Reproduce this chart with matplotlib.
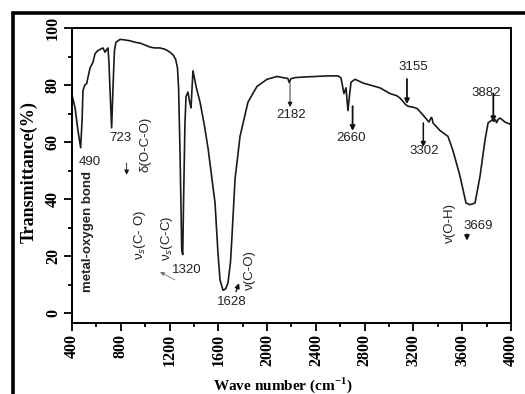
import matplotlib
matplotlib.use("Agg")
import matplotlib.pyplot as plt
from matplotlib.patches import Rectangle
from matplotlib.ticker import MultipleLocator

# FTIR spectrum
wavenumber = [400, 425, 449, 471, 483, 490, 505, 520, 548, 572, 589, 610, 630, 654, 671,
              685, 695, 703, 712, 725, 737, 748, 760, 794, 836, 876, 918, 958, 1000, 1040,
              1080, 1122, 1165, 1204, 1230, 1250, 1265, 1274, 1286, 1300, 1308, 1316, 1326,
              1335, 1351, 1365, 1376, 1392, 1420, 1450, 1485, 1515, 1545, 1573, 1597, 1614,
              1638, 1660, 1679, 1700, 1712, 1737, 1778, 1843, 1917, 1999, 2081, 2140, 2170,
              2182, 2195, 2230, 2300, 2400, 2500, 2580, 2606, 2630, 2647, 2663, 2675, 2688,
              2721, 2786, 2860, 2926, 3008, 3065, 3090, 3139, 3160, 3188, 3229, 3278, 3327,
              3345, 3352, 3360, 3418, 3483, 3524, 3582, 3631, 3664, 3705, 3746, 3787, 3812,
              3844, 3860, 3872, 3882, 3895, 3910, 3951, 3992, 4000]
transmittance = [76.5, 72, 64, 58, 68, 78, 80, 80.5, 86, 88, 91, 92, 92.5, 93, 91.5,
                 92.5, 93, 88, 78, 65, 80, 92, 95, 96, 95.8, 95.5, 95, 94.7, 94, 93.3,
                 93, 93, 92.5, 91.5, 90.5, 89, 86, 79, 56, 22, 20.5, 42, 66,
                 76, 77.5, 74, 72, 85, 79, 74, 66, 58, 48, 38.6, 21, 11.6,
                 8, 8.5, 10.5, 18, 27, 47, 62, 74, 79.5, 82, 83, 82.5, 82.3,
                 80.8, 82.2, 82.6, 82.8, 83, 83.2, 83.2, 82.5, 77, 79, 71, 76, 81,
                 82, 80.7, 79.8, 79, 77, 76.2, 75.4, 73, 72.5, 72.3, 71.8, 69.5, 67,
                 68.6, 68.4, 66.7, 64, 62, 57, 48, 38.6, 38, 38.6, 48, 60.7, 66.7,
                 67.7, 67.3, 67.8, 66.8, 68, 68.4, 67, 66.3, 66]

# peak labels: text, x, y
peak_labels = ["490", "723", "1320", "1628", "2182", "2660", "3155", "3302", "3882", "3669"]
peak_x = [548, 800, 1343, 1712, 2200, 2692, 3199, 3291, 3800, 3732]
peak_y = [53, 61.4, 15, 3.9, 69.5, 61.4, 86.3, 56.8, 77.2, 30.5]

# vertical band assignments (rotated text)
band_labels = ["metal-oxygen bond", "δ(O-C-O)", "ν$_s$(C- O)", "ν$_s$(C-C)", "ν(C-O)", "ν(O-H)"]
band_x = [530, 999, 958, 1179, 1860, 3500]
band_y = [28.5, 59, 27.4, 26.3, 15, 31.6]

# arrows: x_start, y_start, x_end, y_end, width
arrow_x0 = [848, 2188, 2701, 3147, 3281, 3855, 3639, 1745]
arrow_y0 = [52.6, 80.4, 72.6, 82.1, 66.7, 77, 27.6, 7.5]
arrow_x1 = [848, 2188, 2701, 3147, 3281, 3855, 3639, 1770]
arrow_y1 = [48.5, 72.3, 63.9, 73.3, 58.2, 67, 25.4, 10.5]
arrow_w = [0.6, 0.6, 1.3, 1.3, 1.1, 1.3, 1.2, 1.0]

plt.rcParams['mathtext.fontset'] = 'custom'
plt.rcParams['mathtext.rm'] = 'Liberation Sans'
plt.rcParams['mathtext.bf'] = 'Liberation Serif:bold'

fig = plt.figure(figsize=(5.25, 3.94), dpi=100)
ax = fig.add_axes([72 / 525, 1 - 323 / 394, 439 / 525, 295 / 394])

ax.plot(wavenumber, transmittance, color='#1a1a1a', lw=1.2)
ax.set_xlim(400, 4000)
ax.set_ylim(-3.5, 100)

ax.xaxis.set_major_locator(MultipleLocator(400))
ax.xaxis.set_minor_locator(MultipleLocator(200))
ax.yaxis.set_major_locator(MultipleLocator(20))
ax.yaxis.set_minor_locator(MultipleLocator(10))
ax.tick_params(which='both', direction='out', width=1.3)
ax.tick_params(which='major', length=6, pad=2)
ax.tick_params(which='minor', length=3)
for lab in ax.get_xticklabels() + ax.get_yticklabels():
    lab.set_family('Liberation Serif')
    lab.set_weight('bold')
    lab.set_fontsize(11.5)
    lab.set_rotation(90)
for lab in ax.get_yticklabels():
    lab.set_va('center')
for sp in ax.spines.values():
    sp.set_linewidth(1.4)

ann_font = dict(family='Liberation Sans', fontsize=9.5, color='#222222')
for t, x, y in zip(peak_labels, peak_x, peak_y):
    ax.text(x, y, t, ha='center', va='center', **ann_font)
for i, (t, x, y) in enumerate(zip(band_labels, band_x, band_y)):
    ax.text(x, y, t, ha='center', va='center', rotation=90,
            fontweight='bold' if i == 0 else 'normal', **ann_font)

for x0, y0, x1, y1, w in zip(arrow_x0, arrow_y0, arrow_x1, arrow_y1, arrow_w):
    ax.annotate('', xy=(x1, y1), xytext=(x0, y0),
                arrowprops=dict(arrowstyle='-|>', color='#111111', lw=w,
                                mutation_scale=7, shrinkA=0, shrinkB=0))
# thin grey pointer near 1320
ax.annotate('', xy=(1122, 14.4), xytext=(1245, 11.6),
            arrowprops=dict(arrowstyle='-|>', color='#777777', lw=0.6,
                            mutation_scale=6, shrinkA=0, shrinkB=0))

fig.text(29 / 525, 1 - 172 / 394, 'Transmittance(%)', rotation=90, ha='center', va='center',
         family='Liberation Serif', fontweight='bold', fontsize=13)
fig.text(283 / 525, 1 - 375 / 394, 'Wave number (cm$^{\\mathbf{-1}}$)', ha='center', va='top',
         family='Liberation Serif', fontweight='bold', fontsize=11)

# thick outer frame (runs off the right and bottom edges)
fig.add_artist(Rectangle((13 / 525, -0.2), 1.3, 1.2 - 13 / 394, fill=False, lw=2.6,
                         edgecolor='black', transform=fig.transFigure))

fig.savefig('out.png', dpi=100)
